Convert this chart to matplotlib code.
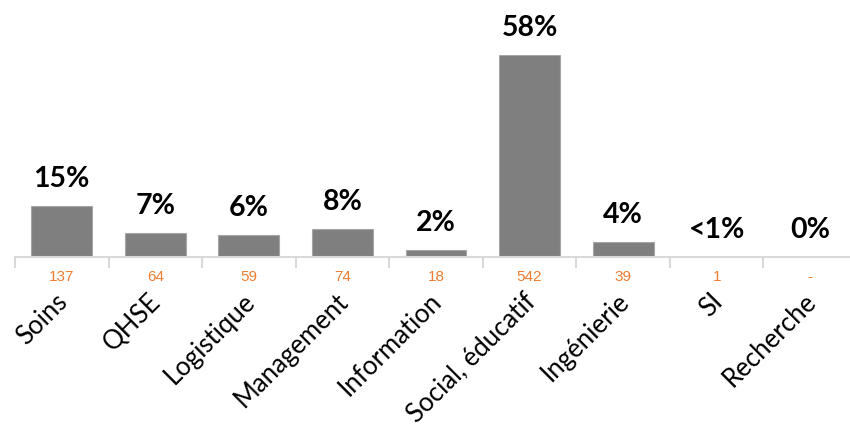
import matplotlib
matplotlib.use("Agg")
import matplotlib.pyplot as plt
from matplotlib.transforms import offset_copy, blended_transform_factory
import numpy as np

categories = ["Soins", "QHSE", "Logistique", "Management", "Information",
              "Social, éducatif", "Ingénierie", "SI", "Recherche"]
counts = [137, 64, 59, 74, 18, 542, 39, 1, 0]

total = sum(counts)
shares = [c / total * 100 for c in counts]


def pct_label(c, s):
    if c == 0:
        return "0%"
    if s < 1:
        return "<1%"
    return f"{round(s)}%"


def count_label(c):
    return "-" if c == 0 else str(c)


fig = plt.figure(figsize=(8.5, 4.27), dpi=100)
ax = fig.add_axes([15 / 850, (427 - 258) / 427, 842 / 850, 202 / 427])

x = np.arange(len(categories))
ax.bar(x, counts, width=0.65, color="#7F7F7F", edgecolor="#A6A6A6",
       linewidth=0.8, zorder=2)

ax.set_xlim(-0.5, len(categories) - 0.5)
ax.set_ylim(0, max(counts))

for side in ["top", "right", "left"]:
    ax.spines[side].set_visible(False)
ax.spines["bottom"].set_color("#D9D9D9")
ax.spines["bottom"].set_linewidth(1.5)
ax.set_yticks([])
ax.set_xticks(np.arange(len(categories) + 1) - 0.5)
ax.set_xticklabels([])
ax.tick_params(axis="x", length=8, width=1.5, color="#D9D9D9", direction="out")

# percentage labels above bars
for xi, c, s in zip(x, counts, shares):
    tr = offset_copy(ax.transData, fig=fig, x=0, y=20, units="dots")
    ax.text(xi, c, pct_label(c, s), transform=tr, ha="center", va="baseline",
            fontsize=20.5, fontweight="bold", family="Lato", color="black",
            clip_on=False)

# counts under the axis
btr = blended_transform_factory(ax.transData, ax.transAxes)
for xi, c in zip(x, counts):
    tr = offset_copy(btr, fig=fig, x=0, y=-19, units="dots")
    ax.text(xi, 0, count_label(c), transform=tr, ha="center", va="center",
            fontsize=11, family="Liberation Sans", color="#ED7D31",
            clip_on=False)

# rotated category names
for xi, name in zip(x, categories):
    tr = offset_copy(btr, fig=fig, x=-7, y=-31, units="dots")
    ax.text(xi, 0, name, transform=tr, ha="right", va="top", rotation=45,
            rotation_mode="anchor", fontsize=18.5, family="Lato", color="black",
            clip_on=False)

fig.savefig("out.png", dpi=100, facecolor="white")
